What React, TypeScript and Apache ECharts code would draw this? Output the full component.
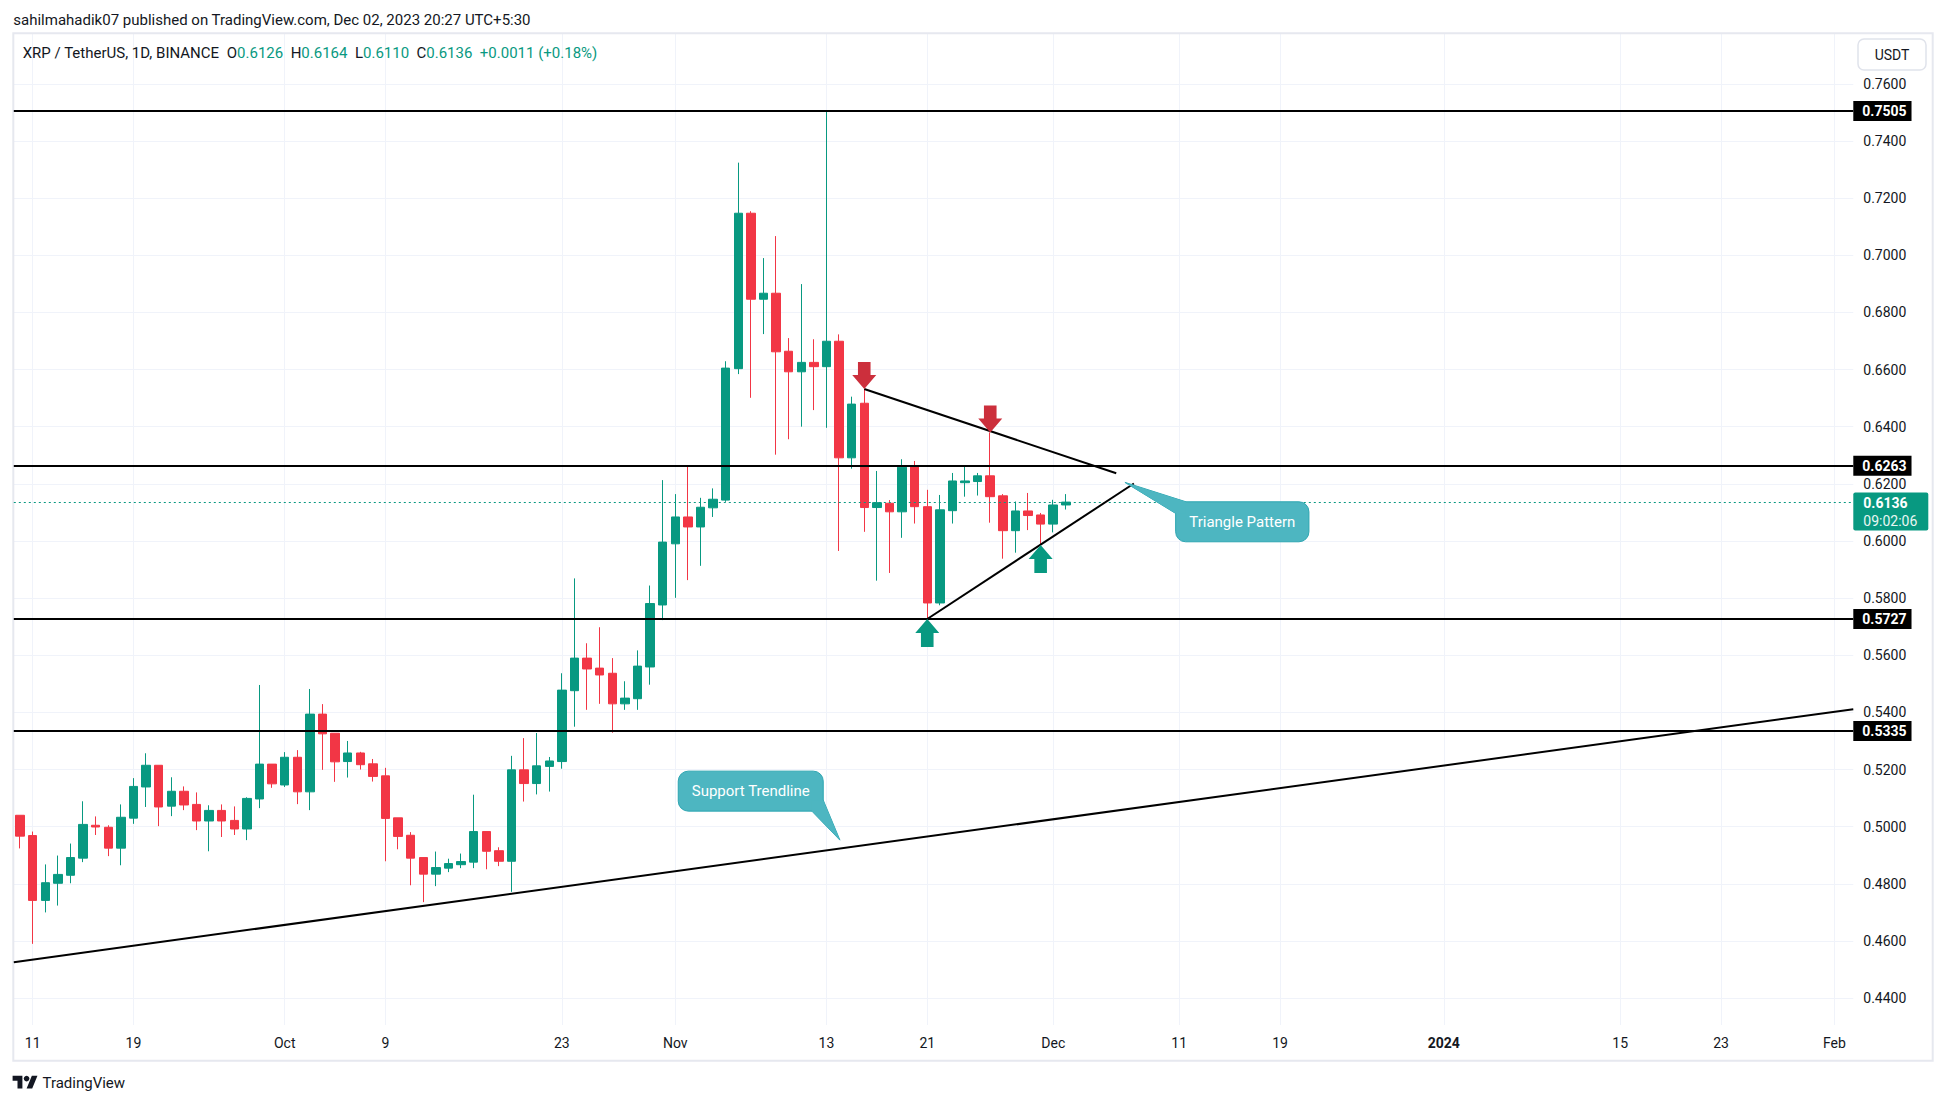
import React, { useEffect, useRef } from "react";
import * as echarts from "echarts";

// ---------- data ----------
const START_DATE = "2023-09-10";
const AXIS_DAYS = 146; // Sep 10 2023 .. Feb 2 2024

const opens = [
  0.504, 0.4969, 0.4742, 0.4802, 0.483, 0.489, 0.5005, 0.4998, 0.4925, 0.503,
  0.5139, 0.5215, 0.5072, 0.5124, 0.5078, 0.502, 0.5057, 0.5022, 0.4992, 0.5097,
  0.5219, 0.5146, 0.5243, 0.5122, 0.5394, 0.5327, 0.5228, 0.5258, 0.522, 0.5178,
  0.5031, 0.497, 0.4892, 0.4834, 0.4855, 0.4867, 0.4876, 0.4983, 0.4916, 0.4879,
  0.5199, 0.5151, 0.5211, 0.5228, 0.5476, 0.559, 0.5555, 0.5537, 0.543, 0.5448,
  0.5559, 0.5776, 0.599, 0.6084, 0.6049, 0.6116, 0.6143, 0.6603, 0.7147, 0.6846,
  0.6867, 0.6664, 0.6592, 0.6625, 0.661, 0.6699, 0.6291, 0.6482, 0.6117, 0.6132,
  0.6102, 0.6261, 0.612, 0.5783, 0.6106, 0.6204, 0.6208, 0.6228, 0.6158, 0.6036,
  0.6105, 0.6091, 0.6059, 0.6126,
];
const highs = [
  0.504, 0.4983, 0.4868, 0.4899, 0.4941, 0.5089, 0.5036, 0.5005, 0.5078, 0.517,
  0.5257, 0.5215, 0.5173, 0.5141, 0.512, 0.5075, 0.5078, 0.5071, 0.5103, 0.5496,
  0.5219, 0.5261, 0.5268, 0.5482, 0.5429, 0.5327, 0.53, 0.5262, 0.5237, 0.5206,
  0.5031, 0.4981, 0.4892, 0.4913, 0.4888, 0.4906, 0.5112, 0.4983, 0.4928, 0.5248,
  0.531, 0.5328, 0.5244, 0.5537, 0.5869, 0.5642, 0.5698, 0.559, 0.5509, 0.5617,
  0.5844, 0.6213, 0.6164, 0.6263, 0.6151, 0.6184, 0.6629, 0.7324, 0.7154, 0.699,
  0.7067, 0.671, 0.6899, 0.6706, 0.7505, 0.6723, 0.6505, 0.6532, 0.6245, 0.6143,
  0.6286, 0.628, 0.6179, 0.6161, 0.6238, 0.6261, 0.6238, 0.638, 0.6164, 0.6138,
  0.6168, 0.6098, 0.6144, 0.6164,
];
const lows = [
  0.4924, 0.459, 0.47, 0.4724, 0.4802, 0.4876, 0.4971, 0.4897, 0.4865, 0.501,
  0.5069, 0.5002, 0.5037, 0.5058, 0.4988, 0.4914, 0.4964, 0.4971, 0.4953, 0.5065,
  0.5136, 0.5139, 0.5079, 0.5058, 0.5199, 0.5157, 0.5172, 0.52, 0.5158, 0.4879,
  0.4921, 0.4795, 0.4736, 0.4792, 0.4841, 0.4855, 0.4855, 0.4851, 0.4862, 0.4772,
  0.5088, 0.5113, 0.5123, 0.5203, 0.535, 0.5409, 0.543, 0.5329, 0.5409, 0.5409,
  0.5497, 0.5723, 0.5801, 0.5863, 0.5913, 0.6084, 0.6137, 0.6584, 0.6501, 0.6724,
  0.6302, 0.6356, 0.64, 0.6458, 0.6396, 0.5965, 0.6253, 0.6032, 0.5861, 0.5888,
  0.6011, 0.6061, 0.5727, 0.5775, 0.6061, 0.6155, 0.6159, 0.6064, 0.5938, 0.5959,
  0.6038, 0.5986, 0.603, 0.611,
];
const closes = [
  0.4967, 0.4742, 0.4804, 0.4833, 0.4892, 0.5008, 0.4999, 0.4925, 0.5033, 0.5141,
  0.5215, 0.5069, 0.5124, 0.5076, 0.502, 0.5057, 0.502, 0.4992, 0.5099, 0.5219,
  0.515, 0.5243, 0.5122, 0.5394, 0.5325, 0.5227, 0.5258, 0.5217, 0.5176, 0.5029,
  0.4966, 0.489, 0.4834, 0.4857, 0.4871, 0.4878, 0.4983, 0.4914, 0.4879, 0.5199,
  0.5151, 0.5213, 0.523, 0.5478, 0.559, 0.5552, 0.5531, 0.543, 0.545, 0.5562,
  0.5781, 0.5996, 0.6084, 0.6049, 0.6118, 0.6146, 0.6605, 0.7147, 0.6846, 0.6867,
  0.6662, 0.6592, 0.6625, 0.661, 0.6699, 0.6291, 0.6479, 0.6117, 0.6134, 0.6102,
  0.6258, 0.612, 0.5783, 0.6109, 0.621, 0.621, 0.6228, 0.6155, 0.6036, 0.6105,
  0.6089, 0.6059, 0.6126, 0.6136,
];

const xTickDates = [
  "2023-09-11", "2023-09-19", "2023-10-01", "2023-10-09", "2023-10-23",
  "2023-11-01", "2023-11-13", "2023-11-21", "2023-12-01", "2023-12-11",
  "2023-12-19", "2024-01-01", "2024-01-15", "2024-01-23", "2024-02-01",
];
const xTickLabels = ["11", "19", "Oct", "9", "23", "Nov", "13", "21", "Dec", "11", "19", "2024", "15", "23", "Feb"];
const yTicks = [0.44, 0.46, 0.48, 0.5, 0.52, 0.54, 0.56, 0.58, 0.6, 0.62, 0.64, 0.66, 0.68, 0.7, 0.72, 0.74, 0.76];
const levelPrices = [0.7505, 0.6263, 0.5727, 0.5335];
const lastPrice = 0.6136;
const countdown = "09:02:06";

// drawings: [day offset from START_DATE, price]
const supportTrend = [[-0.5, 0.4526], [145.5, 0.5411]];
const triangleUpper = [[67, 0.6532], [87, 0.6237]];
const triangleLower = [[72, 0.5727], [88.4, 0.6201]];
const downArrows = [[67, 0.6532], [77, 0.638]];
const upArrows = [[72, 0.5727], [81, 0.5986]];
const supportCalloutText = "Support Trendline";
const supportCalloutAt = [65.07, 0.4953];
const triangleCalloutText = "Triangle Pattern";
const triangleCalloutAt = [87.69, 0.6205];

const publishLine = "sahilmahadik07 published on TradingView.com, Dec 02, 2023 20:27 UTC+5:30";
const symbolTitle = "XRP / TetherUS, 1D, BINANCE";
const ohlcKeys = ["O", "H", "L", "C"];
const ohlcValues = ["0.6126", "0.6164", "0.6110", "0.6136"];
const changeText = "+0.0011 (+0.18%)";
const currencyText = "USDT";
const brandText = "TradingView";

// ---------- style ----------
const FONT = "Roboto, 'Noto Sans', 'DejaVu Sans', sans-serif";
const TEXT = "#131722";
const UP = "#089981";
const DOWN = "#f23645";
const GRIDC = "#f0f3fa";
const CALLOUT_FILL = "#4db6c1";
const CALLOUT_STROKE = "#2ea6b2";

echarts.graphic.registerShape(
  "tvLogo",
  echarts.graphic.extendPath("M14 22H7V11H0V4h14v18zM28 22h-8l7.5-18h8L28 22z", {}) as any
);

const DAY = 86400000;
const dayIndex = (d: string) => Math.round((Date.parse(d) - Date.parse(START_DATE)) / DAY);
const categories = Array.from({ length: AXIS_DAYS }, (_, i) =>
  new Date(Date.parse(START_DATE) + i * DAY).toISOString().slice(0, 10)
);
const tickIdx = xTickDates.map(dayIndex);
const tickLabelByIdx: Record<number, string> = {};
tickIdx.forEach((ix, k) => (tickLabelByIdx[ix] = xTickLabels[k]));

function txt(x: number, y: number, text: string, extra: any = {}, z = 60) {
  const align = extra.align || "left";
  const va = extra.verticalAlign || "middle";
  return {
    type: "text",
    x,
    y,
    z,
    silent: true,
    style: {
      text,
      fill: extra.fill || TEXT,
      fontSize: extra.fontSize || 15,
      fontFamily: FONT,
      fontWeight: extra.fontWeight || "normal",
      align,
      textAlign: align,
      verticalAlign: va,
      textVerticalAlign: va,
      rich: extra.rich,
    },
  };
}

function buildOption() {
  const candleData = opens.map((o, i) => [o, closes[i], lows[i], highs[i]]);

  const gridMarks: any[] = [
    ...tickIdx.map((ix) => ({ xAxis: ix })),
    ...yTicks.map((v) => ({
      yAxis: v,
      label: {
        show: true,
        position: "end",
        formatter: v.toFixed(4),
        color: TEXT,
        fontSize: 14,
        fontFamily: FONT,
        distance: 10,
      },
    })),
  ];

  return {
    animation: false,
    backgroundColor: "#ffffff",
    grid: { left: 13.8, right: 92.7, top: 33.5, bottom: 80, containLabel: false },
    xAxis: [
      {
        type: "category",
        data: categories,
        boundaryGap: true,
        axisLine: { show: false },
        axisTick: { show: false },
        splitLine: { show: false },
        axisLabel: {
          interval: (i: number) => tickLabelByIdx[i] !== undefined,
          formatter: (_v: string, i: number) => {
            const t = tickLabelByIdx[i] ?? "";
            return /^\d{4}$/.test(t) ? `{b|${t}}` : t;
          },
          color: TEXT,
          fontSize: 14,
          fontFamily: FONT,
          margin: 11,
          rich: { b: { fontWeight: "bold", fontSize: 14, color: TEXT, fontFamily: FONT } },
        },
      },
      { type: "value", min: -0.5, max: AXIS_DAYS - 0.5, show: false },
    ],
    yAxis: { type: "value", min: 0.4306, max: 0.7776, show: false, scale: true },
    series: [
      {
        name: "grid",
        type: "line",
        xAxisIndex: 1,
        yAxisIndex: 0,
        data: [],
        z: 0,
        silent: true,
        markLine: {
          z: 0,
          precision: 4,
          silent: true,
          symbol: "none",
          animation: false,
          lineStyle: { color: GRIDC, width: 1, type: "solid" },
          label: { show: false },
          emphasis: { disabled: true },
          data: gridMarks,
        },
      },
      {
        name: "XRPUSDT",
        type: "candlestick",
        xAxisIndex: 0,
        yAxisIndex: 0,
        data: candleData,
        barWidth: 9,
        z: 2,
        itemStyle: {
          color: UP,
          color0: DOWN,
          borderColor: UP,
          borderColor0: DOWN,
          borderWidth: 1,
        },
      },
      {
        name: "levels",
        type: "line",
        xAxisIndex: 1,
        yAxisIndex: 0,
        data: [],
        z: 3,
        silent: true,
        markLine: {
          z: 3,
          precision: 4,
          silent: true,
          symbol: "none",
          animation: false,
          lineStyle: { color: "#000000", width: 2, type: "solid" },
          emphasis: { disabled: true },
          data: levelPrices.map((v) => ({
            yAxis: v,
            label: {
              show: true,
              position: "end",
              distance: 0,
              formatter: v.toFixed(4),
              backgroundColor: "#000000",
              color: "#ffffff",
              fontWeight: "bold",
              fontSize: 14,
              fontFamily: FONT,
              padding: [3, 5, 3, 9],
            },
          })),
        },
      },
      {
        name: "last",
        type: "line",
        xAxisIndex: 1,
        yAxisIndex: 0,
        data: [],
        z: 3,
        silent: true,
        markLine: {
          z: 3,
          precision: 4,
          silent: true,
          symbol: "none",
          animation: false,
          lineStyle: { color: UP, width: 1, type: [2, 3] },
          label: { show: false },
          emphasis: { disabled: true },
          data: [{ yAxis: lastPrice }],
        },
      },
      ...[supportTrend, triangleUpper, triangleLower].map((pts, k) => ({
        name: "trend" + k,
        type: "line",
        xAxisIndex: 1,
        yAxisIndex: 0,
        data: pts,
        symbol: "none",
        z: 4,
        silent: true,
        lineStyle: { color: "#000000", width: 2 },
      })),
      {
        name: "down",
        type: "scatter",
        xAxisIndex: 1,
        yAxisIndex: 0,
        data: downArrows,
        symbol: "path://M5.7,0H18.3V13H24L12,27L0,13H5.7Z",
        symbolSize: [24, 27],
        symbolOffset: [0, -13.5],
        itemStyle: { color: "#cc2f3c", opacity: 1 },
        z: 5,
        silent: true,
      },
      {
        name: "up",
        type: "scatter",
        xAxisIndex: 1,
        yAxisIndex: 0,
        data: upArrows,
        symbol: "path://M12,0L24,14H18.3V28H5.7V14H0Z",
        symbolSize: [24, 28],
        symbolOffset: [0, 14],
        itemStyle: { color: UP, opacity: 1 },
        z: 5,
        silent: true,
      },
    ],
  };
}

function buildGraphics(chart: any) {
  const px = (p: number[]) => chart.convertToPixel({ seriesIndex: 4 }, p) as number[];
  const rightEdge = px([AXIS_DAYS - 0.5, 0.5])[0];
  const g: any[] = [];

  // frame
  g.push({
    type: "rect",
    z: 1,
    silent: true,
    shape: { x: 13.3, y: 33.3, width: 1919.4, height: 1027.5 },
    style: { fill: "none", stroke: "#e6e8ef", lineWidth: 2 },
  });

  // top texts
  g.push(txt(13.3, 20, publishLine, { fontSize: 15 }));
  const parts = [`{d|${symbolTitle}}`];
  ohlcKeys.forEach((k, i) => parts.push(`  {d|${k}}{g|${ohlcValues[i]}}`));
  parts.push(`  {g|${changeText}}`);
  g.push(
    txt(22.7, 53.4, parts.join(""), {
      rich: {
        d: { fill: TEXT, color: TEXT, fontSize: 15, fontFamily: FONT },
        g: { fill: UP, color: UP, fontSize: 15, fontFamily: FONT },
      },
    })
  );

  // currency box
  g.push({
    type: "rect",
    z: 60,
    silent: true,
    shape: { x: 1858, y: 39, width: 68, height: 31, r: 6 },
    style: { fill: "#ffffff", stroke: "#e0e3eb", lineWidth: 1.5 },
  });
  g.push(txt(1892, 54.5, currencyText, { align: "center", fontSize: 14 }));

  // last price box
  const yl = px([0, lastPrice])[1];
  g.push({
    type: "rect",
    z: 70,
    silent: true,
    shape: { x: rightEdge, y: yl - 9.5, width: 75, height: 38, r: 2 },
    style: { fill: UP },
  });
  g.push(txt(rightEdge + 10, yl + 0.5, lastPrice.toFixed(4), { fill: "#ffffff", fontSize: 14, fontWeight: "bold" }, 71));
  g.push(txt(rightEdge + 10, yl + 18.5, countdown, { fill: "#e8f7f3", fontSize: 14 }, 71));

  // support callout (pointer at lower-right)
  {
    const T = px(supportCalloutAt);
    const bw = 145, bh = 40;
    const bx = T[0] - 161.7, by = T[1] - 69;
    const ptr = [
      [T[0] - 28, by + bh],
      [T[0] - 28, by + bh - 11],
      [bx + bw, by + bh - 11],
      [T[0], T[1]],
    ];
    g.push({ type: "polygon", z: 80, silent: true, shape: { points: ptr }, style: { fill: CALLOUT_FILL, stroke: CALLOUT_STROKE, lineWidth: 1 } });
    g.push({ type: "rect", z: 81, silent: true, shape: { x: bx, y: by, width: bw, height: bh, r: 10 }, style: { fill: CALLOUT_FILL, stroke: CALLOUT_STROKE, lineWidth: 1 } });
    g.push({ type: "polygon", z: 82, silent: true, shape: { points: ptr }, style: { fill: CALLOUT_FILL } });
    g.push(txt(bx + bw / 2, by + bh / 2, supportCalloutText, { align: "center", fill: "#ffffff", fontSize: 15 }, 83));
  }
  // triangle callout (pointer at upper-left)
  {
    const T = px(triangleCalloutAt);
    const bw = 133.3, bh = 40;
    const bx = T[0] + 50.7, by = T[1] + 19.4;
    const ptr = [
      [T[0], T[1]],
      [T[0] + 61, by],
      [T[0] + 61, T[1] + 31],
      [bx, T[1] + 31],
    ];
    g.push({ type: "polygon", z: 80, silent: true, shape: { points: ptr }, style: { fill: CALLOUT_FILL, stroke: CALLOUT_STROKE, lineWidth: 1 } });
    g.push({ type: "rect", z: 81, silent: true, shape: { x: bx, y: by, width: bw, height: bh, r: 10 }, style: { fill: CALLOUT_FILL, stroke: CALLOUT_STROKE, lineWidth: 1 } });
    g.push({ type: "polygon", z: 82, silent: true, shape: { points: ptr }, style: { fill: CALLOUT_FILL } });
    g.push(txt(bx + bw / 2, by + bh / 2, triangleCalloutText, { align: "center", fill: "#ffffff", fontSize: 15 }, 83));
  }

  // TradingView brand
  g.push({ type: "tvLogo", z: 60, silent: true, x: 12.6, y: 1073, scaleX: 0.7, scaleY: 0.7, style: { fill: TEXT } });
  g.push({ type: "circle", z: 60, silent: true, shape: { cx: 12.6 + 20 * 0.7, cy: 1073 + 8 * 0.7, r: 4 * 0.7 }, style: { fill: TEXT } });
  g.push(txt(42.5, 1082.5, brandText, { fontSize: 15 }));

  return g;
}

export default function App() {
  const ref = useRef<HTMLDivElement>(null);
  useEffect(() => {
    if (!ref.current) return;
    const chart = echarts.init(ref.current, null, { renderer: "svg" });
    chart.setOption(buildOption() as any);
    chart.setOption({ graphic: buildGraphics(chart) } as any);
    return () => chart.dispose();
  }, []);
  return (
    <div
      ref={ref}
      style={{ position: "absolute", left: 0, top: 0, width: 1946, height: 1105, background: "#fff" }}
    />
  );
}
